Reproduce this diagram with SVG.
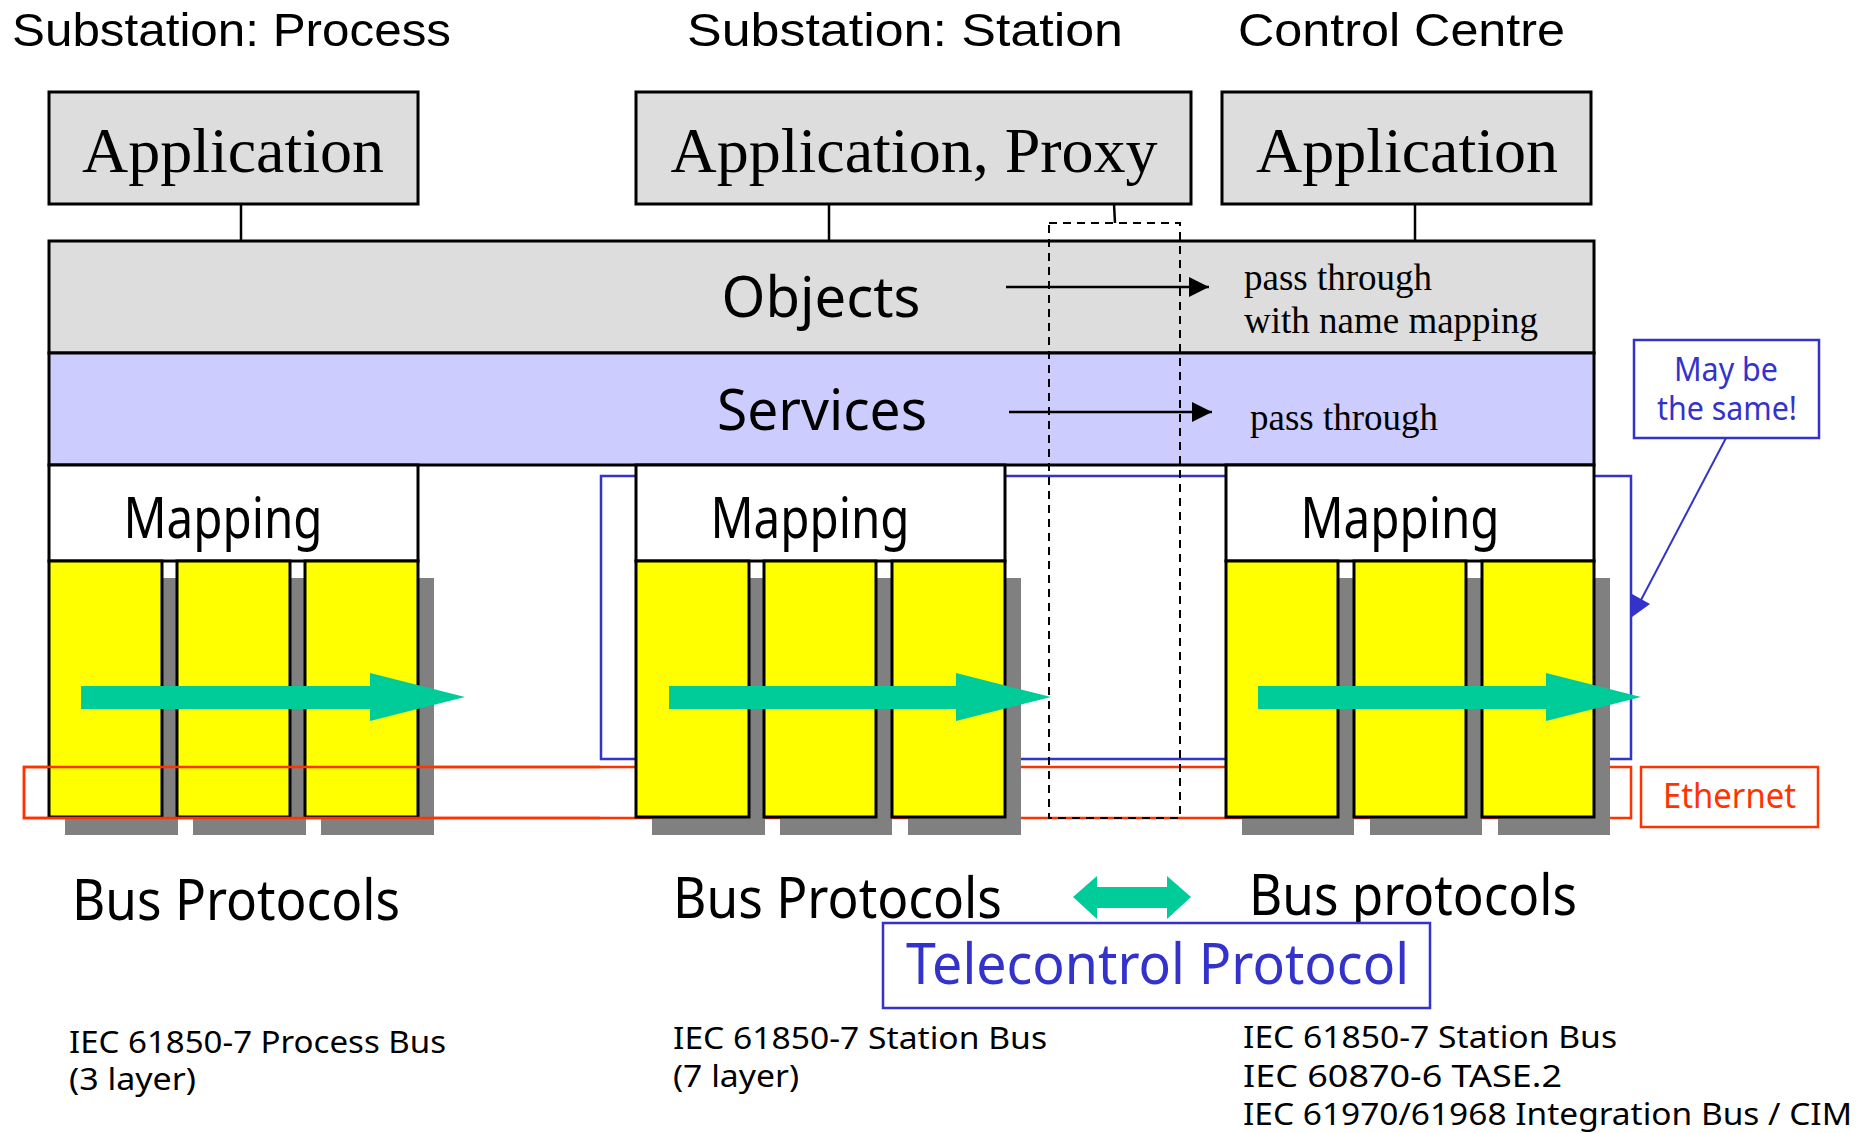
<svg xmlns="http://www.w3.org/2000/svg" width="1864" height="1133" viewBox="0 0 1864 1133">
<defs>
<style>
.app{fill:#dddddd;stroke:#000;stroke-width:3}
.obj{fill:#dddddd;stroke:#000;stroke-width:3}
.svc{fill:#ccccff;stroke:#000;stroke-width:3}
.map{fill:#ffffff;stroke:#000;stroke-width:3}
.col{fill:#ffff00;stroke:#000;stroke-width:3}
.sh{fill:#808080}
.grn{fill:#00cc99}
.ln{stroke:#000;stroke-width:2.5;fill:none}
.c{font-family:'Noto Sans','DejaVu Sans',sans-serif;fill:#000}
.h{font-family:'Liberation Sans','Noto Sans',sans-serif;fill:#000}
.t{font-family:'Liberation Serif','Times New Roman',serif;fill:#000}
.blue{fill:#3333cc}
.red{fill:#ff3300}
.bbox{fill:#fff;stroke:#3333cc;stroke-width:2.5}
.rbox{fill:#fff;stroke:#ff3300;stroke-width:2.5}
</style>
<marker id="ah" markerUnits="userSpaceOnUse" markerWidth="20" markerHeight="20" refX="20" refY="10" orient="auto">
<path d="M0 0 L20 10 L0 20 Z" fill="#000"/>
</marker>
</defs>
<rect width="1864" height="1133" fill="#fff"/>

<g id="frames">
<rect x="601" y="476" width="1030" height="283" fill="none" stroke="#3333cc" stroke-width="2.5"/>
<rect x="24" y="767" width="1607" height="51" fill="none" stroke="#ff3300" stroke-width="2.5"/>
</g>

<g id="titles">
<text class="h" x="12" y="46" font-size="47" textLength="439" lengthAdjust="spacingAndGlyphs">Substation: Process</text>
<text class="h" x="687" y="46" font-size="47" textLength="436" lengthAdjust="spacingAndGlyphs">Substation: Station</text>
<text class="h" x="1238" y="46" font-size="47" textLength="327" lengthAdjust="spacingAndGlyphs">Control Centre</text>
</g>

<g id="connectors">
<line class="ln" x1="241" y1="204" x2="241" y2="241"/>
<line class="ln" x1="829" y1="204" x2="829" y2="241"/>
<line class="ln" x1="1415" y1="204" x2="1415" y2="241"/>
<line class="ln" x1="1114" y1="204" x2="1115" y2="223"/>
</g>

<g id="app1"><rect class="app" x="49" y="92" width="369" height="112"/><text class="t" x="233" y="172" font-size="64" text-anchor="middle">Application</text></g>
<g id="app2"><rect class="app" x="636" y="92" width="555" height="112"/><text class="t" x="914" y="172" font-size="64" text-anchor="middle">Application, Proxy</text></g>
<g id="app3"><rect class="app" x="1222" y="92" width="369" height="112"/><text class="t" x="1407" y="172" font-size="64" text-anchor="middle">Application</text></g>

<g id="objects"><rect class="obj" x="49" y="241" width="1545" height="112"/><text class="c" x="821" y="317" font-size="56" text-anchor="middle" textLength="199" lengthAdjust="spacingAndGlyphs">Objects</text>
<text class="t" x="1244" y="290" font-size="37">pass through</text>
<text class="t" x="1244" y="333" font-size="37">with name mapping</text></g>
<g id="services"><rect class="svc" x="49" y="353" width="1545" height="112"/><text class="c" x="822" y="430" font-size="56" text-anchor="middle" textLength="210" lengthAdjust="spacingAndGlyphs">Services</text>
<text class="t" x="1250" y="430" font-size="37">pass through</text></g>

<g id="mapping1"><rect class="map" x="49" y="465" width="369" height="96"/><text class="c" x="223" y="538" font-size="56" text-anchor="middle" textLength="199" lengthAdjust="spacingAndGlyphs">Mapping</text></g>
<g id="mapping2"><rect class="map" x="636" y="465" width="369" height="96"/><text class="c" x="810" y="538" font-size="56" text-anchor="middle" textLength="199" lengthAdjust="spacingAndGlyphs">Mapping</text></g>
<g id="mapping3"><rect class="map" x="1226" y="465" width="368" height="96"/><text class="c" x="1400" y="538" font-size="56" text-anchor="middle" textLength="199" lengthAdjust="spacingAndGlyphs">Mapping</text></g>

<g id="stack1">
<rect class="sh" x="65" y="578" width="113" height="257"/>
<rect class="sh" x="193" y="578" width="113" height="257"/>
<rect class="sh" x="321" y="578" width="113" height="257"/>
<rect class="col" x="49" y="561" width="113" height="256"/>
<rect class="col" x="177" y="561" width="113" height="256"/>
<rect class="col" x="305" y="561" width="113" height="256"/>
</g>
<g id="stack2">
<rect class="sh" x="652" y="578" width="113" height="257"/>
<rect class="sh" x="780" y="578" width="112" height="257"/>
<rect class="sh" x="908" y="578" width="113" height="257"/>
<rect class="col" x="636" y="561" width="113" height="256"/>
<rect class="col" x="764" y="561" width="112" height="256"/>
<rect class="col" x="892" y="561" width="113" height="256"/>
</g>
<g id="stack3">
<rect class="sh" x="1242" y="578" width="112" height="257"/>
<rect class="sh" x="1370" y="578" width="112" height="257"/>
<rect class="sh" x="1498" y="578" width="112" height="257"/>
<rect class="col" x="1226" y="561" width="112" height="256"/>
<rect class="col" x="1354" y="561" width="112" height="256"/>
<rect class="col" x="1482" y="561" width="112" height="256"/>
</g>

<path d="M600 767 H24 V818 H600" fill="none" stroke="#ff3300" stroke-width="2.5"/>

<g id="passthrough">
<rect x="1049" y="223" width="131" height="595" fill="none" stroke="#000" stroke-width="2" stroke-dasharray="8 6"/>
</g>

<g id="flows">
<path class="grn" d="M81 686 H370 V673 L465 697 L370 721 V709 H81 Z"/>
<path class="grn" d="M669 686 H956 V673 L1051 697 L956 721 V709 H669 Z"/>
<path class="grn" d="M1258 686 H1546 V673 L1641 697 L1546 721 V709 H1258 Z"/>
<path class="grn" d="M1073 897 L1097 876 V887 H1167 V876 L1191 897 L1167 919 V908 H1097 V919 Z"/>
</g>

<g id="arrows">
<line class="ln" x1="1006" y1="287" x2="1209" y2="287" stroke-width="2" marker-end="url(#ah)"/>
<line class="ln" x1="1009" y1="412" x2="1212" y2="412" stroke-width="2" marker-end="url(#ah)"/>
<line x1="1726" y1="438" x2="1641" y2="600" stroke="#3333cc" stroke-width="2"/>
<polygon points="1632,594 1650,604 1632,617" fill="#3333cc"/>
</g>

<g id="note">
<rect class="bbox" x="1634" y="340" width="185" height="98"/>
<text class="c blue" x="1726" y="381" font-size="32" text-anchor="middle" textLength="104" lengthAdjust="spacingAndGlyphs">May be</text>
<text class="c blue" x="1727" y="420" font-size="32" text-anchor="middle" textLength="140" lengthAdjust="spacingAndGlyphs">the same!</text>
</g>

<g id="ethernet">
<rect class="rbox" x="1641" y="767" width="177" height="60"/>
<text class="c red" x="1663" y="808" font-size="34" textLength="133" lengthAdjust="spacingAndGlyphs">Ethernet</text>
</g>

<g id="bus">
<text class="c" x="72" y="920" font-size="56" textLength="328" lengthAdjust="spacingAndGlyphs">Bus Protocols</text>
<text class="c" x="673" y="918" font-size="56" textLength="329" lengthAdjust="spacingAndGlyphs">Bus Protocols</text>
<text class="c" x="1249" y="915" font-size="56" textLength="328" lengthAdjust="spacingAndGlyphs">Bus protocols</text>
</g>

<g id="telecontrol">
<rect class="bbox" x="883" y="923" width="547" height="85"/>
<text class="c blue" x="906" y="984" font-size="56" textLength="503" lengthAdjust="spacingAndGlyphs">Telecontrol Protocol</text>
</g>

<g id="standards">
<text class="c" x="69" y="1053" font-size="30" textLength="377" lengthAdjust="spacingAndGlyphs">IEC 61850-7 Process Bus</text>
<text class="c" x="69" y="1090" font-size="30" textLength="127" lengthAdjust="spacingAndGlyphs">(3 layer)</text>
<text class="c" x="673" y="1049" font-size="30" textLength="374" lengthAdjust="spacingAndGlyphs">IEC 61850-7 Station Bus</text>
<text class="c" x="673" y="1087" font-size="30" textLength="126" lengthAdjust="spacingAndGlyphs">(7 layer)</text>
<text class="c" x="1243" y="1048" font-size="30" textLength="374" lengthAdjust="spacingAndGlyphs">IEC 61850-7 Station Bus</text>
<text class="c" x="1243" y="1087" font-size="30" textLength="319" lengthAdjust="spacingAndGlyphs">IEC 60870-6 TASE.2</text>
<text class="c" x="1243" y="1125" font-size="30" textLength="609" lengthAdjust="spacingAndGlyphs">IEC 61970/61968 Integration Bus / CIM</text>
</g>
</svg>
